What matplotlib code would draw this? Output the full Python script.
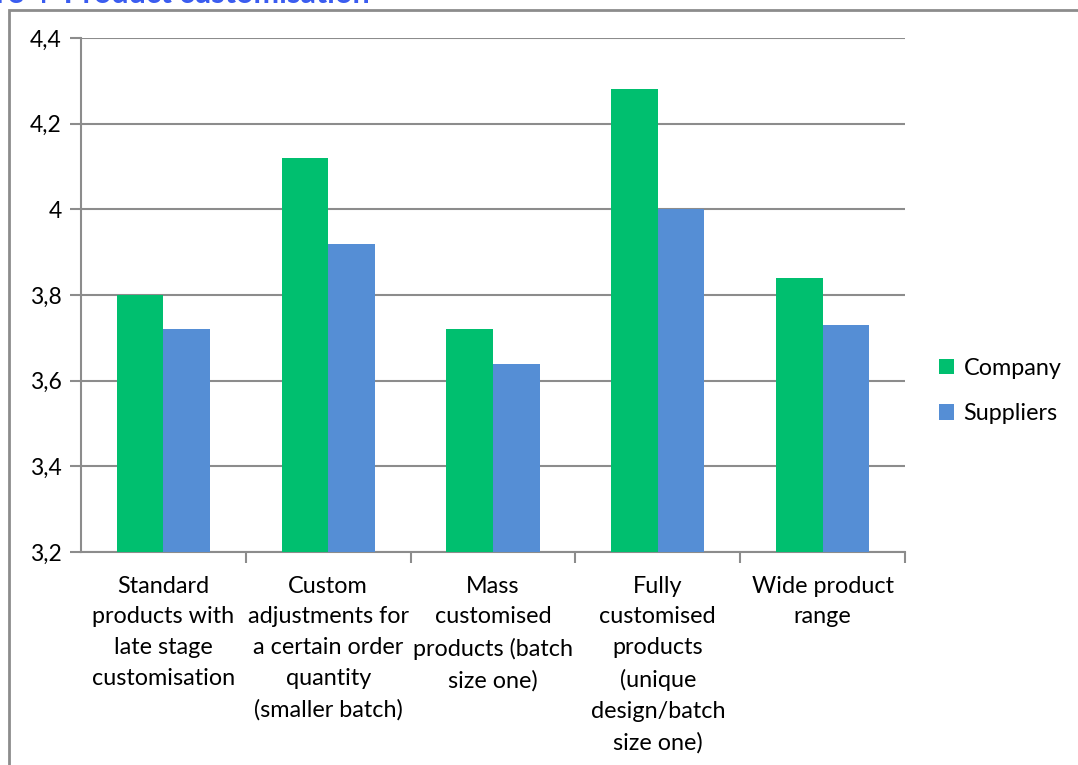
import matplotlib.pyplot as plt
from matplotlib.patches import Rectangle
from matplotlib.ticker import FuncFormatter, FixedLocator
import numpy as np

categories = [
    "Standard\nproducts with\nlate stage\ncustomisation",
    "Custom\nadjustments for\na certain order\nquantity\n(smaller batch)",
    "Mass\ncustomised\nproducts (batch\nsize one)",
    "Fully\ncustomised\nproducts\n(unique\ndesign/batch\nsize one)",
    "Wide product\nrange",
]
company = [3.80, 4.12, 3.72, 4.28, 3.84]
suppliers = [3.72, 3.92, 3.64, 4.00, 3.73]
y_ticks = [3.2, 3.4, 3.6, 3.8, 4.0, 4.2, 4.4]

plt.rcParams['font.family'] = ['Lato', 'DejaVu Sans']

fig = plt.figure(figsize=(10.78, 7.65), dpi=100)

# outer chart frame, runs off the right and bottom edges
fig.patches.append(Rectangle((9 / 1078, -0.1), 1.2, 1.1 - 10 / 765,
                             transform=fig.transFigure, fill=False,
                             edgecolor='#8c8c8c', linewidth=2))
fig.text(-0.004, 1 - 3 / 765, "re 4  Product customisation", color='#3a5cf0',
         fontsize=22, fontweight='bold', va='baseline', ha='left')

ax = fig.add_axes([81 / 1078, 1 - 552 / 765, (905 - 81) / 1078, (552 - 38) / 765])

x = np.arange(len(categories))
w = 0.283
ax.bar(x - w / 2, company, w, bottom=0, color='#00bf6f', label='Company', zorder=3)
ax.bar(x + w / 2, suppliers, w, bottom=0, color='#558ed5', label='Suppliers', zorder=3)

ax.set_xlim(-0.5, len(categories) - 0.5)
ax.set_ylim(3.2, 4.4)
ax.set_yticks(y_ticks)
ax.yaxis.set_major_formatter(FuncFormatter(lambda v, p: f"{v:g}".replace('.', ',')))
ax.grid(axis='y', color='#8c8c8c', linewidth=1.5, zorder=0)

ax.set_xticks(x)
ax.set_xticklabels(categories, fontsize=16.8, linespacing=1.58)
ax.xaxis.set_minor_locator(FixedLocator(np.arange(0.5, len(categories), 1)))
ax.tick_params(axis='x', which='major', length=0, pad=17)
ax.tick_params(axis='x', which='minor', length=8, width=1.5, color='#8c8c8c')
ax.tick_params(axis='y', length=8, width=1.5, color='#8c8c8c', labelsize=16.5, pad=6)

for s in ['top', 'right']:
    ax.spines[s].set_visible(False)
for s in ['left', 'bottom']:
    ax.spines[s].set_color('#8c8c8c')
    ax.spines[s].set_linewidth(1.5)

fig.legend(loc='center left', bbox_to_anchor=(918 / 1078, 1 - 391 / 765),
           frameon=False, fontsize=16.8, handlelength=0.65, handleheight=0.65,
           handletextpad=0.4, labelspacing=1.05)

fig.savefig('out.png', dpi=100)
